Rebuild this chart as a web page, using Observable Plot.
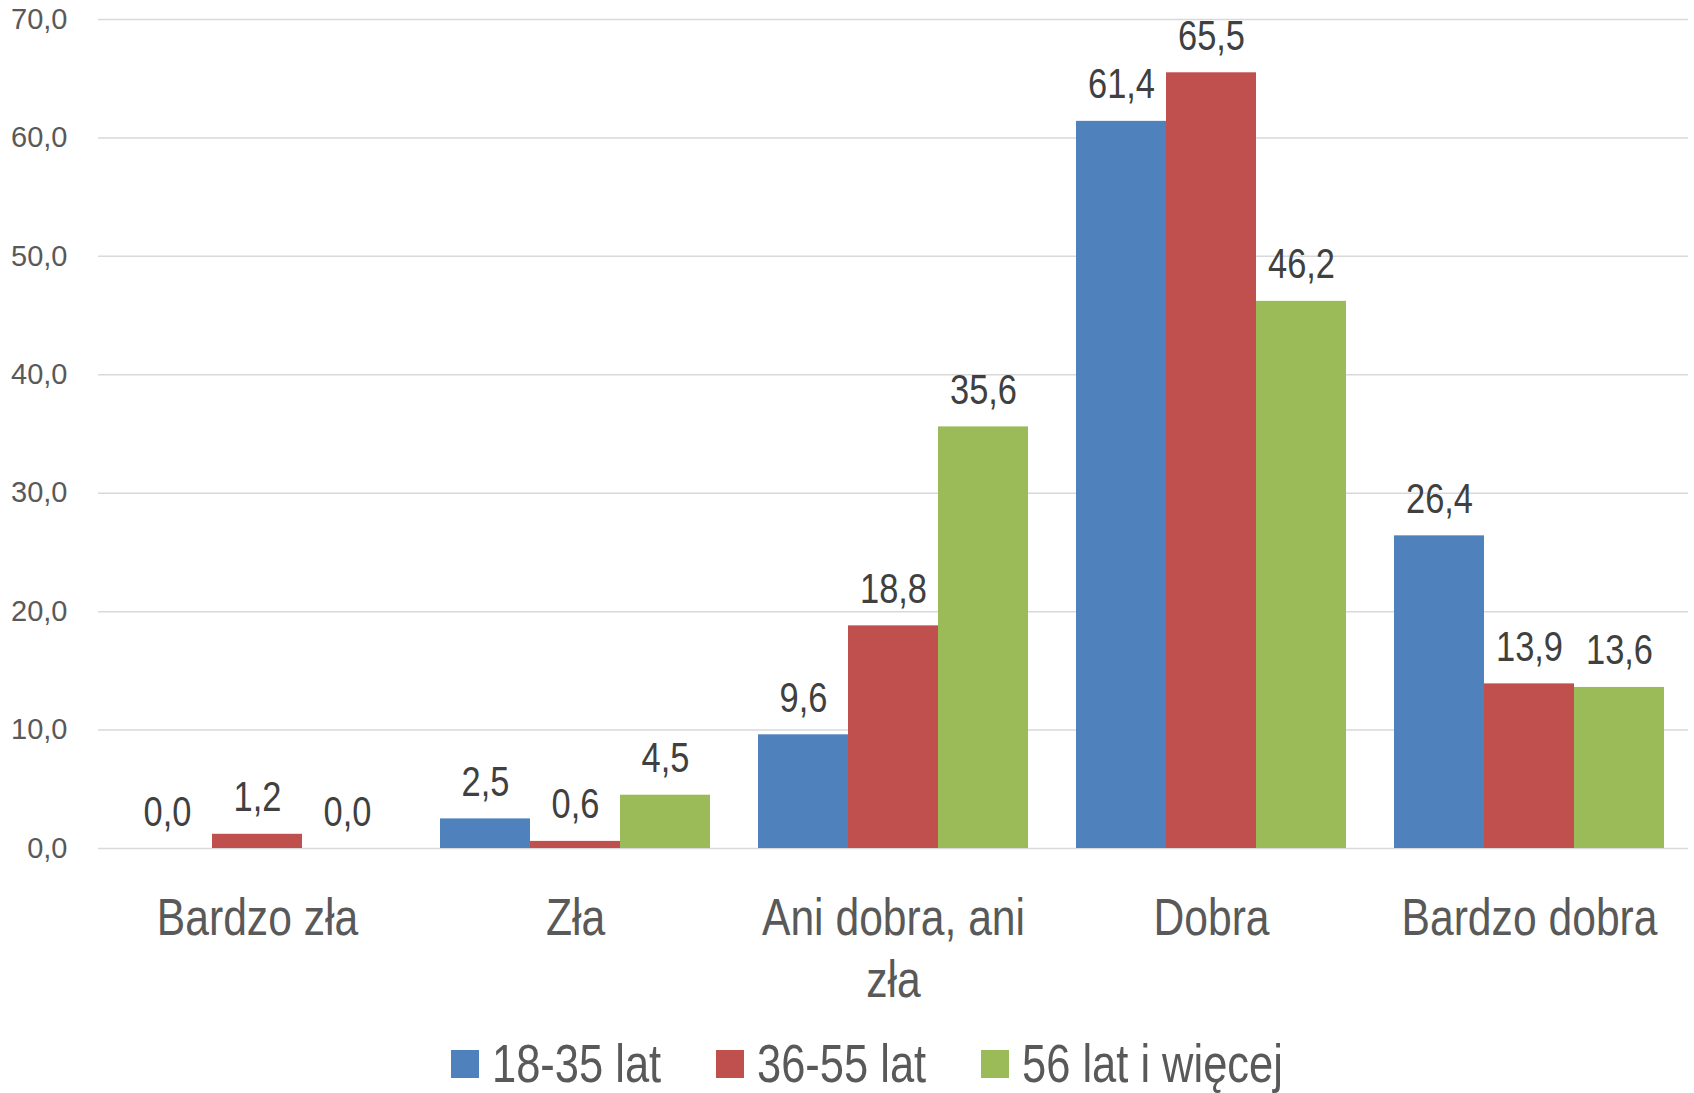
<!DOCTYPE html>
<html><head><meta charset="utf-8">
<script src="https://cdn.jsdelivr.net/npm/d3@7"></script>
<script src="https://cdn.jsdelivr.net/npm/@observablehq/plot@0.6"></script>
<style>
html,body{margin:0;padding:0;background:#fff;overflow:hidden;}
#legend{display:flex;align-items:flex-start;height:56px;padding-top:17px;padding-left:451px;font-family:"Liberation Sans Narrow","Arial Narrow","Liberation Sans",sans-serif;font-size:53px;line-height:1;color:#595959;}
.item{display:flex;align-items:center;height:53px;margin-right:55px;}
.sw{width:28px;height:28px;margin-right:13px;flex:none;}
.lt{display:inline-block;white-space:nowrap;line-height:1;transform:scaleX(0.82);transform-origin:left center;}
</style></head><body><div id="chart"></div><div id="legend"></div>
<script>
const categories = ["Bardzo zła","Zła","Ani dobra, ani zła","Dobra","Bardzo dobra"];
const categoryLabels = ["Bardzo zła","Zła","Ani dobra, ani\nzła","Dobra","Bardzo dobra"];
const series = ["18-35 lat","36-55 lat","56 lat i więcej"];
const values18_35 = [0.0, 2.5, 9.6, 61.4, 26.4];
const values36_55 = [1.2, 0.6, 18.8, 65.5, 13.9];
const values56plus = [0.0, 4.5, 35.6, 46.2, 13.6];
const colors = ["#4F81BD","#C0504D","#9BBB59"];
const yTicks = [0,10,20,30,40,50,60,70];

const NARROW = '"Liberation Sans Narrow","Arial Narrow","Liberation Sans",sans-serif';
const SQUEEZE = 0.82;
const fmt = d => d.toFixed(1).replace(".", ",");
const data = [];
[values18_35, values36_55, values56plus].forEach((vals, si) =>
  vals.forEach((v, ci) => data.push({category: categories[ci], series: series[si], value: v})));

const chart = Plot.plot({
  width: 1694, height: 1020,
  marginTop: 19, marginLeft: 98, marginRight: 6, marginBottom: 172,
  style: {fontFamily: NARROW, background: "#fff"},
  fx: {domain: categories, padding: 0, label: null},
  x: {domain: series, paddingInner: 0, paddingOuter: 0.254, axis: null},
  y: {domain: [0, 70], label: null},
  color: {domain: series, range: colors},
  marks: [
    Plot.gridY(yTicks, {stroke: "#D9D9D9", strokeOpacity: 1, strokeWidth: 1.5}),
    Plot.axisY(yTicks, {tickSize: 0, tickPadding: 31, tickFormat: fmt, fontSize: 29, color: "#595959", fontFamily: "Liberation Sans", label: null}),
    Plot.axisFx({anchor: "bottom", tickSize: 0, tickPadding: 42, fontSize: 52, color: "#595959", lineHeight: 1.2,
      tickFormat: d => categoryLabels[categories.indexOf(d)], label: null}),
    Plot.barY(data, {fx: "category", x: "series", y: "value", fill: "series"}),
    Plot.text(data, {fx: "category", x: "series", y: "value", text: d => fmt(d.value),
      lineAnchor: "bottom", dy: -23, fontSize: 42, fill: "#404040"})
  ]
});
document.getElementById("chart").appendChild(chart);

// condense the narrow-font texts (no narrow face installed): wrap each in a <g> scaled about its own centre
const NS = "http://www.w3.org/2000/svg";
chart.querySelectorAll('g[aria-label="text"] text, g[aria-label="fx-axis tick label"] text').forEach(el => {
  const g = document.createElementNS(NS, "g");
  el.parentNode.insertBefore(g, el);
  g.appendChild(el);
  const bb = g.getBBox();
  const cx = bb.x + bb.width / 2;
  g.setAttribute("transform", `translate(${cx},0) scale(${SQUEEZE},1) translate(${-cx},0)`);
});

const legend = document.getElementById("legend");
series.forEach((s, i) => {
  const it = document.createElement("div"); it.className = "item";
  const sw = document.createElement("div"); sw.className = "sw"; sw.style.background = colors[i];
  const tx = document.createElement("span"); tx.className = "lt"; tx.textContent = s;
  it.appendChild(sw); it.appendChild(tx); legend.appendChild(it);
  tx.style.marginRight = (-(1 - SQUEEZE) * tx.offsetWidth) + "px";
});
</script></body></html>
